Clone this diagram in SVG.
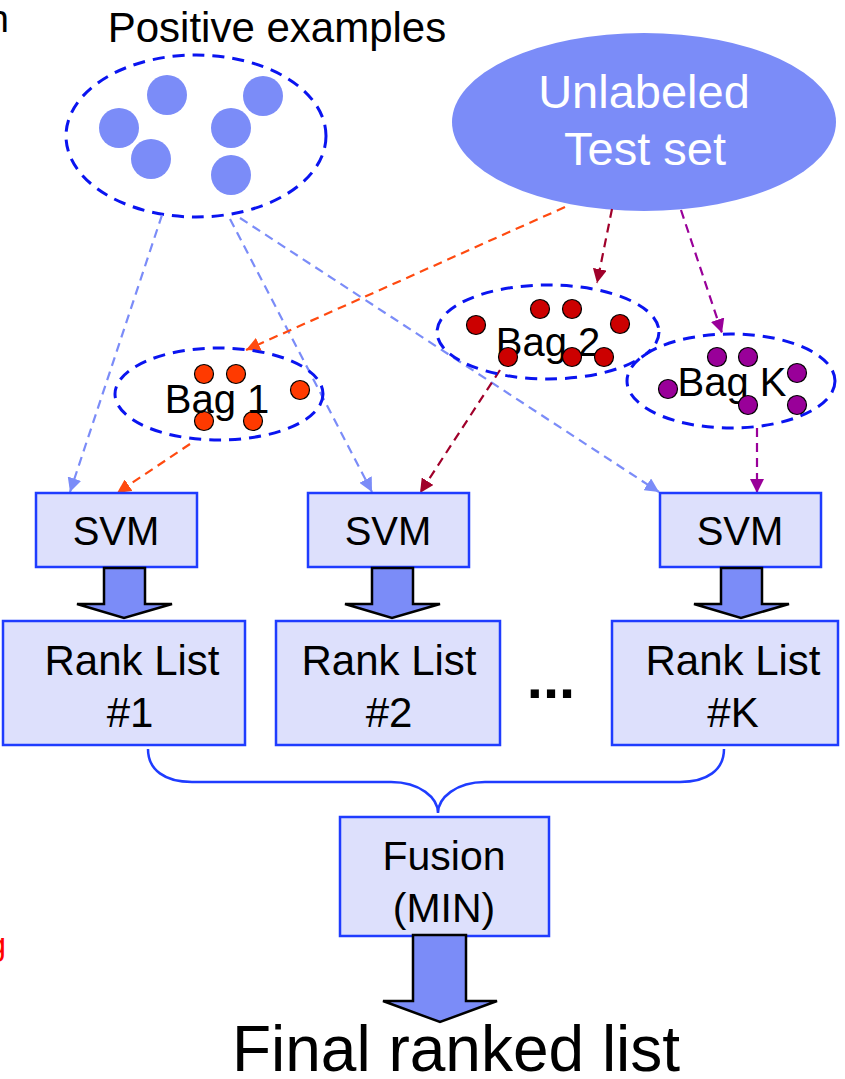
<svg xmlns="http://www.w3.org/2000/svg" width="845" height="1079" viewBox="0 0 845 1079">
  <style>
    .t { font-family: "Liberation Sans", Arial, sans-serif; fill: #000; }
    .group { fill: none; stroke: #0a14f0; stroke-width: 3; stroke-dasharray: 12 8; }
    .pos { fill: #7b8cf8; }
    .box { fill: #dde0fc; stroke: #1f3cff; stroke-width: 2.5; }
    .blk { fill: #7b8cf8; stroke: #000; stroke-width: 2.5; stroke-linejoin: miter; }
    .d1 { fill: #ff3a00; stroke: #000; stroke-width: 1.2; }
    .d2 { fill: #cc0000; stroke: #000; stroke-width: 1.2; }
    .dk { fill: #990099; stroke: #000; stroke-width: 1.2; }
    .c { fill: none; stroke-width: 2.2; stroke-dasharray: 9 6; }
    .cb { stroke: #7b8cf8; }
    .co { stroke: #ff4a10; }
    .cr { stroke: #a0002a; }
    .cp { stroke: #990099; }
  </style>
  <defs>
    <marker id="hb" viewBox="0 0 10 10" refX="10" refY="5" markerWidth="14" markerHeight="14" markerUnits="userSpaceOnUse" orient="auto"><path d="M0,0 L10,5 L0,10 z" fill="#7b8cf8"/></marker>
    <marker id="ho" viewBox="0 0 10 10" refX="10" refY="5" markerWidth="14" markerHeight="14" markerUnits="userSpaceOnUse" orient="auto"><path d="M0,0 L10,5 L0,10 z" fill="#ff4a10"/></marker>
    <marker id="hr" viewBox="0 0 10 10" refX="10" refY="5" markerWidth="14" markerHeight="14" markerUnits="userSpaceOnUse" orient="auto"><path d="M0,0 L10,5 L0,10 z" fill="#a0002a"/></marker>
    <marker id="hp" viewBox="0 0 10 10" refX="10" refY="5" markerWidth="14" markerHeight="14" markerUnits="userSpaceOnUse" orient="auto"><path d="M0,0 L10,5 L0,10 z" fill="#990099"/></marker>
  </defs>

  <rect width="845" height="1079" fill="#fff"/>

  <!-- text fragments at the left edge -->
  <text class="t" x="9" y="32" font-size="38" text-anchor="end">n</text>
  <text class="t" x="6" y="955" font-size="32" text-anchor="end" style="fill:#ff0000">g</text>

  <!-- positive examples -->
  <g id="positive">
    <text class="t" x="277" y="42" font-size="42" text-anchor="middle">Positive examples</text>
    <ellipse class="group" cx="196" cy="136" rx="130" ry="81"/>
    <circle class="pos" cx="167" cy="95" r="20"/>
    <circle class="pos" cx="119" cy="128" r="20"/>
    <circle class="pos" cx="151" cy="159" r="20"/>
    <circle class="pos" cx="263" cy="96" r="20"/>
    <circle class="pos" cx="231" cy="128" r="20"/>
    <circle class="pos" cx="231" cy="175" r="20"/>
  </g>

  <!-- unlabeled test set -->
  <g id="testset">
    <ellipse cx="644" cy="122" rx="192" ry="89" fill="#7b8cf8"/>
    <text class="t" x="644" y="108" font-size="47" text-anchor="middle" style="fill:#fff">Unlabeled</text>
    <text class="t" x="645" y="165" font-size="47" text-anchor="middle" style="fill:#fff">Test set</text>
  </g>

  <!-- connectors -->
  <g id="connectors">
    <line class="c cb" x1="162" y1="215" x2="70" y2="492" marker-end="url(#hb)"/>
    <line class="c cb" x1="230" y1="219" x2="372" y2="492" marker-end="url(#hb)"/>
    <line class="c cb" x1="240" y1="218" x2="659" y2="492" marker-end="url(#hb)"/>
    <line class="c co" x1="565" y1="207" x2="246" y2="350" marker-end="url(#ho)"/>
    <line class="c cr" x1="612" y1="209" x2="597" y2="283" marker-end="url(#hr)"/>
    <line class="c cp" x1="681" y1="210" x2="722" y2="333" marker-end="url(#hp)"/>
    <line class="c co" x1="190" y1="444" x2="117" y2="493" marker-end="url(#ho)"/>
    <line class="c cr" x1="500" y1="370" x2="420" y2="493" marker-end="url(#hr)"/>
    <line class="c cp" x1="757" y1="428" x2="757" y2="493" marker-end="url(#hp)"/>
    <!-- brace joining the rank lists -->
    <path d="M148,749 C148,770 165,782 192,782 L391,782 C420,782 438,798 438,813 C438,798 456,782 485,782 L680,782 C707,782 724,770 724,749" fill="none" stroke="#1f3cff" stroke-width="2.5"/>
  </g>

  <!-- bags -->
  <g id="bag1">
    <ellipse class="group" cx="219" cy="394" rx="104" ry="46"/>
    <circle class="d1" cx="204" cy="374" r="9.5"/>
    <circle class="d1" cx="236" cy="374" r="9.5"/>
    <circle class="d1" cx="300" cy="390" r="9.5"/>
    <circle class="d1" cx="204" cy="421" r="9.5"/>
    <circle class="d1" cx="253" cy="421" r="9.5"/>
    <text class="t" x="217" y="413" font-size="40" text-anchor="middle">Bag 1</text>
  </g>
  <g id="bag2">
    <ellipse class="group" cx="548" cy="332" rx="111" ry="47"/>
    <circle class="d2" cx="540" cy="309" r="9.5"/>
    <circle class="d2" cx="572" cy="309" r="9.5"/>
    <circle class="d2" cx="476" cy="325" r="9.5"/>
    <circle class="d2" cx="620" cy="324" r="9.5"/>
    <text class="t" x="548" y="356" font-size="40" text-anchor="middle">Bag 2</text>
    <circle class="d2" cx="508" cy="357" r="9.5"/>
    <circle class="d2" cx="572" cy="357" r="9.5"/>
    <circle class="d2" cx="604" cy="357" r="9.5"/>
  </g>
  <g id="bagk">
    <ellipse class="group" cx="731" cy="381" rx="104" ry="47"/>
    <circle class="dk" cx="717" cy="357" r="9.5"/>
    <circle class="dk" cx="748" cy="357" r="9.5"/>
    <circle class="dk" cx="797" cy="373" r="9.5"/>
    <circle class="dk" cx="668" cy="389" r="9.5"/>
    <text class="t" x="732" y="396" font-size="40" text-anchor="middle">Bag K</text>
    <circle class="dk" cx="748" cy="405" r="9.5"/>
    <circle class="dk" cx="797" cy="405" r="9.5"/>
  </g>

  <!-- SVM stage -->
  <g id="svm1">
    <rect class="box" x="36" y="493" width="161" height="74"/>
    <text class="t" x="116" y="545" font-size="40" text-anchor="middle">SVM</text>
  </g>
  <g id="svm2">
    <rect class="box" x="308" y="493" width="161" height="74"/>
    <text class="t" x="388" y="545" font-size="40" text-anchor="middle">SVM</text>
  </g>
  <g id="svmk">
    <rect class="box" x="660" y="493" width="161" height="74"/>
    <text class="t" x="740" y="545" font-size="40" text-anchor="middle">SVM</text>
  </g>

  <!-- block arrows SVM -> rank list -->
  <g id="flow1"><path class="blk" d="M104,568 L145,568 L145,604 L172,604 L124,618 L77,604 L104,604 Z"/></g>
  <g id="flow2"><path class="blk" d="M372,568 L413,568 L413,604 L440,604 L392,618 L345,604 L372,604 Z"/></g>
  <g id="flowk"><path class="blk" d="M721,568 L762,568 L762,604 L789,604 L741,618 L694,604 L721,604 Z"/></g>

  <!-- rank lists -->
  <g id="rank1">
    <rect class="box" x="3" y="621" width="242" height="124"/>
    <text class="t" x="132" y="675" font-size="42" text-anchor="middle">Rank List</text>
    <text class="t" x="130" y="727" font-size="42" text-anchor="middle">#1</text>
  </g>
  <g id="rank2">
    <rect class="box" x="276" y="621" width="224" height="124"/>
    <text class="t" x="389" y="675" font-size="42" text-anchor="middle">Rank List</text>
    <text class="t" x="389" y="727" font-size="42" text-anchor="middle">#2</text>
  </g>
  <text class="t" x="551" y="698" font-size="58" font-weight="bold" text-anchor="middle">...</text>
  <g id="rankk">
    <rect class="box" x="612" y="621" width="226" height="124"/>
    <text class="t" x="733" y="675" font-size="42" text-anchor="middle">Rank List</text>
    <text class="t" x="733" y="727" font-size="42" text-anchor="middle">#K</text>
  </g>

  <!-- fusion -->
  <g id="fusion">
    <rect class="box" x="340" y="817" width="209" height="119"/>
    <text class="t" x="444" y="870" font-size="41" text-anchor="middle">Fusion</text>
    <text class="t" x="444" y="922" font-size="41" text-anchor="middle">(MIN)</text>
  </g>
  <g id="flowf"><path class="blk" d="M413,935 L466,935 L466,1001 L497,1001 L440,1022 L383,1001 L413,1001 Z"/></g>

  <g id="final">
    <text class="t" x="456" y="1071" font-size="64" text-anchor="middle">Final ranked list</text>
  </g>
</svg>
